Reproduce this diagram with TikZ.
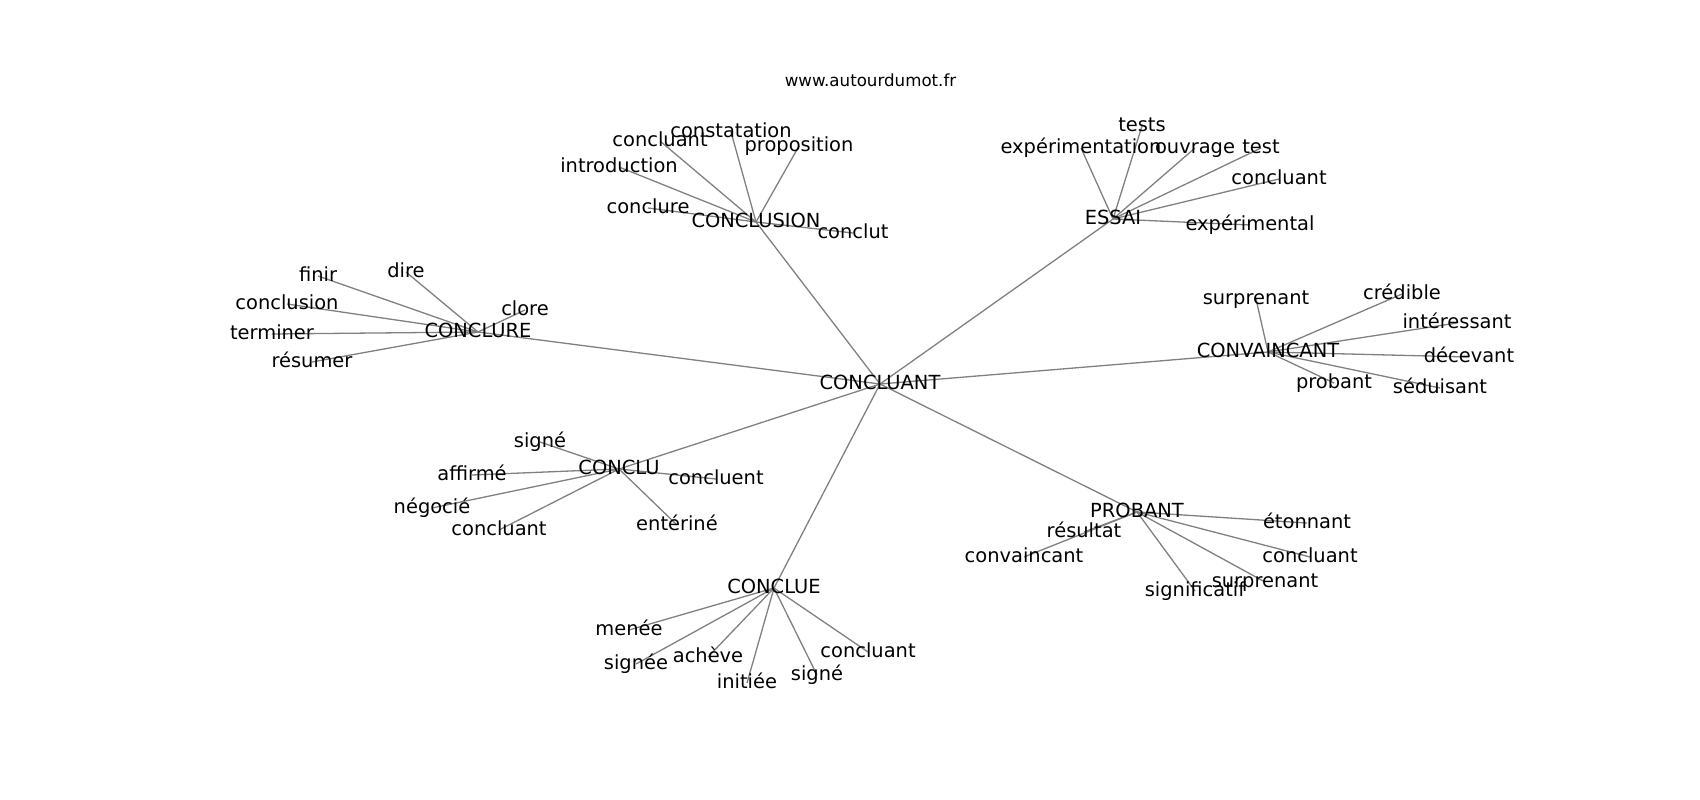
\documentclass[tikz,border=0pt]{standalone}
\usepackage{fontspec}
\setmainfont{DejaVu Sans}
\usetikzlibrary{backgrounds}
\tikzset{
  word/.style={inner sep=0pt, font=\fontsize{19.44}{23}\selectfont, text height=14.5pt, text depth=4.5pt},
  site/.style={inner sep=0pt, font=\fontsize{16.67}{20}\selectfont, text height=12.5pt, text depth=3.5pt},
  link/.style={draw=gray, line width=1.3pt}
}

\begin{document}
\begin{tikzpicture}[x=1pt,y=-1pt]
\useasboundingbox (0,0) rectangle (1700,800);

\node[site] (site) at (870.5,82) {www.autourdumot.fr};

% hubs
\node[word] (concluant) at (880,384) {CONCLUANT};
\node[word] (conclusion) at (756,222) {CONCLUSION};
\node[word] (essai) at (1113,219) {ESSAI};
\node[word] (conclure) at (478,332) {CONCLURE};
\node[word] (convaincant) at (1268,352) {CONVAINCANT};
\node[word] (conclu) at (619,469) {CONCLU};
\node[word] (conclue) at (774,588) {CONCLUE};
\node[word] (probant) at (1137,512) {PROBANT};

\begin{pgfonlayer}{background}
\foreach \hub in {conclusion,essai,conclure,convaincant,conclu,conclue,probant}
  \draw[link] (concluant.center) -- (\hub.center);
\end{pgfonlayer}

% leaves
\foreach \coordinate/\name/\label in {{(731,132)/cnsA/constatation},{(660,141)/cnsB/concluant},{(799,146)/cnsC/proposition},{(619,167)/cnsD/introduction},{(648,208)/cnsE/conclure},{(853,233)/cnsF/conclut}}
  {\node[word] (\name) at \coordinate {\label};
   \begin{pgfonlayer}{background}\draw[link] (conclusion.center) -- (\name.center);\end{pgfonlayer}}

\foreach \coordinate/\name/\label in {{(1142,126)/esA/tests},{(1081,148)/esB/expérimentation},{(1195,148)/esC/ouvrage},{(1261,148)/esD/test},{(1279,179)/esE/concluant},{(1250,225)/esF/expérimental}}
  {\node[word] (\name) at \coordinate {\label};
   \begin{pgfonlayer}{background}\draw[link] (essai.center) -- (\name.center);\end{pgfonlayer}}

\foreach \coordinate/\name/\label in {{(318,276)/creA/finir},{(406,272)/creB/dire},{(287,304)/creC/conclusion},{(525,310)/creD/clore},{(272,334)/creE/terminer},{(312,362)/creF/résumer}}
  {\node[word] (\name) at \coordinate {\label};
   \begin{pgfonlayer}{background}\draw[link] (conclure.center) -- (\name.center);\end{pgfonlayer}}

\foreach \coordinate/\name/\label in {{(1256,299)/cvA/surprenant},{(1402,294)/cvB/crédible},{(1457,323)/cvC/intéressant},{(1469,357)/cvD/décevant},{(1334,383)/cvE/probant},{(1440,388)/cvF/séduisant}}
  {\node[word] (\name) at \coordinate {\label};
   \begin{pgfonlayer}{background}\draw[link] (convaincant.center) -- (\name.center);\end{pgfonlayer}}

\foreach \coordinate/\name/\label in {{(540,442)/cuA/signé},{(472,475)/cuB/affirmé},{(716,479)/cuC/concluent},{(432,508)/cuD/négocié},{(499,530)/cuE/concluant},{(677,525)/cuF/entériné}}
  {\node[word] (\name) at \coordinate {\label};
   \begin{pgfonlayer}{background}\draw[link] (conclu.center) -- (\name.center);\end{pgfonlayer}}

\foreach \coordinate/\name/\label in {{(629,630)/ceA/menée},{(636,664)/ceB/signée},{(708,657)/ceC/achève},{(747,683)/ceD/initiée},{(817,675)/ceE/signé},{(868,652)/ceF/concluant}}
  {\node[word] (\name) at \coordinate {\label};
   \begin{pgfonlayer}{background}\draw[link] (conclue.center) -- (\name.center);\end{pgfonlayer}}

\foreach \coordinate/\name/\label in {{(1307,523)/prA/étonnant},{(1084,532)/prB/résultat},{(1024,557)/prC/convaincant},{(1310,557)/prD/concluant},{(1265,582)/prE/surprenant},{(1195,591)/prF/significatif}}
  {\node[word] (\name) at \coordinate {\label};
   \begin{pgfonlayer}{background}\draw[link] (probant.center) -- (\name.center);\end{pgfonlayer}}

\end{tikzpicture}
\end{document}
